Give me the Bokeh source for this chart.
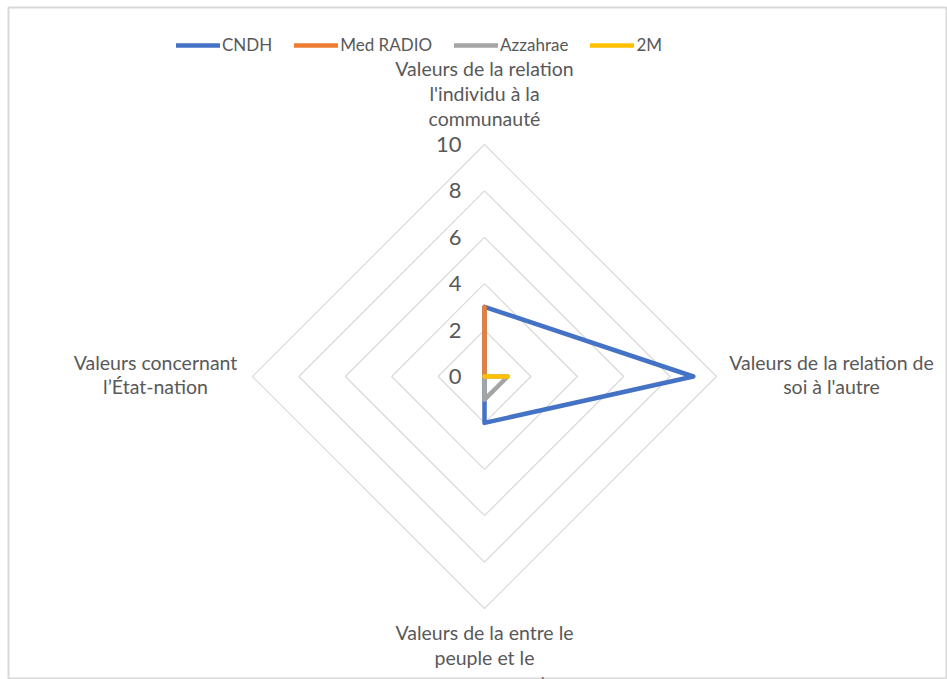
import math
from bokeh.plotting import figure
from bokeh.models import Range1d, Legend, LegendItem, ColumnDataSource
from bokeh.core.properties import value
from bokeh.embed import file_html
from bokeh.resources import INLINE

# ---- data ----
categories = [
    "Valeurs de la relation\nl'individu à la\ncommunauté",
    "Valeurs de la relation de\nsoi à l'autre",
    "Valeurs de la entre le\npeuple et le\ngouvernement",
    "Valeurs concernant\nl’État-nation",
]
series_names = ["CNDH", "Med RADIO", "Azzahrae", "2M"]
cndh = [3, 9, 2, 0]
med_radio = [3, 0, 0, 0]
azzahrae = [0, 1, 1, 0]
m2 = [0, 1, 0, 0]
ticks = [0, 2, 4, 6, 8, 10]
tick_labels = ["0", "2", "4", "6", "8", "10"]

series_values = [cndh, med_radio, azzahrae, m2]
colors = ["#4472C4", "#ED7D31", "#A5A5A5", "#FFC000"]

FONT = "Lato"
TXT = "#595959"

W, H = 947, 679
BL, BT, BR, BB = 8, 7, 1, 0
S = 23.2  # px per unit
fw, fh = W - BL - BR, H - BT - BB
cx, cy = 484 - BL, 376 - BT  # centre within frame (px from left / top)

p = figure(width=W, height=H, output_backend="svg", toolbar_location=None,
           x_range=Range1d(-cx / S, (fw - cx) / S),
           y_range=Range1d(-(fh - cy) / S, cy / S),
           min_border_left=BL, min_border_right=BR,
           min_border_top=BT, min_border_bottom=BB)
p.xaxis.visible = False
p.yaxis.visible = False
p.grid.visible = False
p.outline_line_color = "#D9D9D9"
p.outline_line_width = 2
p.background_fill_color = "white"
p.border_fill_color = "white"

n = len(categories)
angles = [math.pi / 2 - 2 * math.pi * i / n for i in range(n)]

def polar(vals):
    xs = [v * math.cos(a) for v, a in zip(vals, angles)]
    ys = [v * math.sin(a) for v, a in zip(vals, angles)]
    return xs + xs[:1], ys + ys[:1]

# grid rings
for t in ticks[1:]:
    gx, gy = polar([t] * n)
    p.line(gx, gy, line_color="#D9D9D9", line_width=1.2)

# tick labels
p.text(x=[0] * len(ticks), y=ticks, text=tick_labels, x_offset=-23,
       text_align="right", text_baseline="middle", text_color=TXT,
       text_font=value(FONT), text_font_size="22px")

# series
items = []
for name, vals, col in zip(series_names, series_values, colors):
    sx, sy = polar(vals)
    r = p.line(sx, sy, line_color=col, line_width=4.5, line_join="round",
               line_cap="round")
    items.append(LegendItem(label=name, renderers=[r]))

# category labels
R = ticks[-1]
vx = [R * math.cos(a) for a in angles]
vy = [R * math.sin(a) for a in angles]
xoff = [0, 115, 0, -97]
yoff = [-51, -2, 49, -2]
src = ColumnDataSource(dict(x=vx, y=vy, text=categories, xo=xoff, yo=yoff))
p.text(x="x", y="y", text="text", x_offset="xo", y_offset="yo", source=src,
       text_align="center", text_baseline="middle", text_color=TXT,
       text_font=value(FONT), text_font_size="19.5px", text_line_height=1.07)

legend = Legend(items=items, orientation="horizontal", location=(168, 624),
                glyph_width=44, glyph_height=20, label_standoff=2, spacing=22,
                padding=0, margin=0, border_line_color=None,
                background_fill_alpha=0, label_text_font=FONT,
                label_text_font_size="17px", label_text_color=TXT)
p.add_layout(legend)

open("out.html", "w").write(file_html(p, INLINE))
